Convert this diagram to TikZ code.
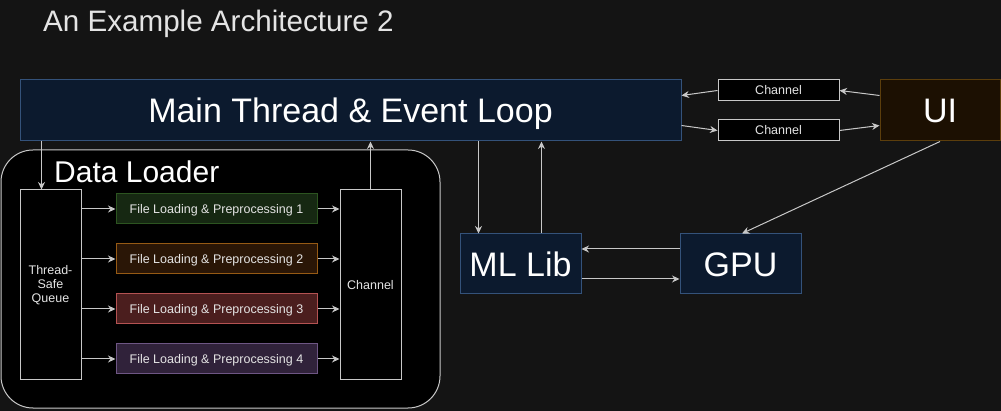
\documentclass[tikz,border=0pt]{standalone}
\usepackage{fontspec}
\setmainfont{Liberation Sans}
\usetikzlibrary{arrows.meta}

\definecolor{bgdark}{RGB}{20,20,20}
\definecolor{linegray}{RGB}{200,200,200}
\definecolor{textgray}{RGB}{228,228,228}
\definecolor{navyfill}{RGB}{12,26,46}
\definecolor{navyline}{RGB}{52,82,122}
\definecolor{uifill}{RGB}{28,16,2}
\definecolor{uiline}{RGB}{92,62,12}
\definecolor{greenfill}{RGB}{22,40,18}
\definecolor{greenline}{RGB}{44,84,32}
\definecolor{orangefill}{RGB}{42,22,6}
\definecolor{orangeline}{RGB}{150,90,20}
\definecolor{redfill}{RGB}{75,30,30}
\definecolor{redline}{RGB}{180,82,82}
\definecolor{purplefill}{RGB}{48,34,58}
\definecolor{purpleline}{RGB}{110,86,132}

\begin{document}
\begin{tikzpicture}[x=1pt, y=-1pt,
  bigbox/.style={draw=navyline, fill=navyfill, line width=1pt, inner sep=0pt, text=white,
    font=\fontsize{34}{40}\selectfont, text height=24.5pt, text depth=0pt},
  darkbox/.style={draw=linegray, fill=black, line width=1pt, inner sep=0pt, text=textgray, align=center,
    font=\fontsize{12.5}{14}\selectfont},
  filebox/.style={line width=1pt, inner sep=0pt, text=textgray, minimum width=201, minimum height=30,
    font=\fontsize{12.5}{14}\selectfont, text height=9pt, text depth=0pt},
  link/.style={draw=linegray, line width=1pt, -{Stealth[length=7.5pt, width=7pt]}}]

\fill[bgdark] (0, 0) rectangle (1001, 411);
\useasboundingbox (0, 0) rectangle (1001, 411);

\node[anchor=base west, inner sep=0pt, text=textgray, font=\fontsize{29.6}{34}\selectfont] (title) at (43, 32) {An Example Architecture 2};

\node[bigbox, minimum width=661, minimum height=61] (main) at (350.5, 110.5) {Main Thread \& Event Loop};

\node[darkbox, minimum width=121, minimum height=21, text height=9pt, text depth=0pt] (ui channel in) at (778.5, 90.5) {Channel};
\node[darkbox, minimum width=121, minimum height=21, text height=9pt, text depth=0pt] (ui channel out) at (778.5, 130.5) {Channel};
\node[bigbox, draw=uiline, fill=uifill, minimum width=120, minimum height=61] (ui) at (940, 110.5) {UI};

\draw[link] ([yshift=15pt]ui.west) -- (ui channel in.east);
\draw[link] (ui channel in.west) -- ([yshift=15pt]main.east);
\draw[link] ([yshift=-15pt]main.east) -- (ui channel out.west);
\draw[link] (ui channel out.east) -- ([yshift=-15pt]ui.west);

\node[bigbox, minimum width=121, minimum height=60] (ml lib) at (520.5, 264) {ML Lib};
\node[bigbox, minimum width=121, minimum height=60] (gpu) at (740.5, 264) {GPU};

\draw[link] ([xshift=19pt]ml lib.north west |- main.south) -- ([xshift=19pt]ml lib.north west);
\draw[link] ([xshift=-40pt]ml lib.north east) -- ([xshift=-40pt]ml lib.north east |- main.south);
\draw[link] ([yshift=15pt]gpu.west) -- ([yshift=15pt]gpu.west -| ml lib.east);
\draw[link] ([yshift=-15pt]ml lib.east) -- ([yshift=-15pt]ml lib.east -| gpu.west);
\draw[link] (ui.south) -- ([xshift=1.5pt]gpu.north);

\node[draw=linegray, fill=black, line width=1pt, rounded corners=32pt, minimum width=439, minimum height=258] (loader) at (220.5, 279) {};
\node[anchor=base west, inner sep=0pt, text=white, font=\fontsize{30}{34}\selectfont] (loader title) at (54, 183) {Data Loader};

\node[darkbox, minimum width=61, minimum height=190] (queue) at (50.5, 285) {Thread-\\Safe\\Queue};
\node[darkbox, minimum width=61, minimum height=190] (channel) at (370.5, 285) {Channel};

\node[filebox, draw=greenline, fill=greenfill] (file one) at (216.5, 209) {File Loading \& Preprocessing 1};
\node[filebox, draw=orangeline, fill=orangefill] (file two) at (216.5, 259) {File Loading \& Preprocessing 2};
\node[filebox, draw=redline, fill=redfill] (file three) at (216.5, 309) {File Loading \& Preprocessing 3};
\node[filebox, draw=purpleline, fill=purplefill] (file four) at (216.5, 359) {File Loading \& Preprocessing 4};

\draw[link] (queue.east |- file one.west) -- (file one.west);
\draw[link] (queue.east |- file two.west) -- (file two.west);
\draw[link] (queue.east |- file three.west) -- (file three.west);
\draw[link] (queue.east |- file four.west) -- (file four.west);

\draw[link] (file one.east) -- (file one.east -| channel.west);
\draw[link] (file two.east) -- (file two.east -| channel.west);
\draw[link] (file three.east) -- (file three.east -| channel.west);
\draw[link] (file four.east) -- (file four.east -| channel.west);

\draw[link] ([xshift=22pt]main.south west) -- ([xshift=22pt]queue.north west);
\draw[link] (channel.north) -- (channel.north |- main.south);
\end{tikzpicture}
\end{document}
